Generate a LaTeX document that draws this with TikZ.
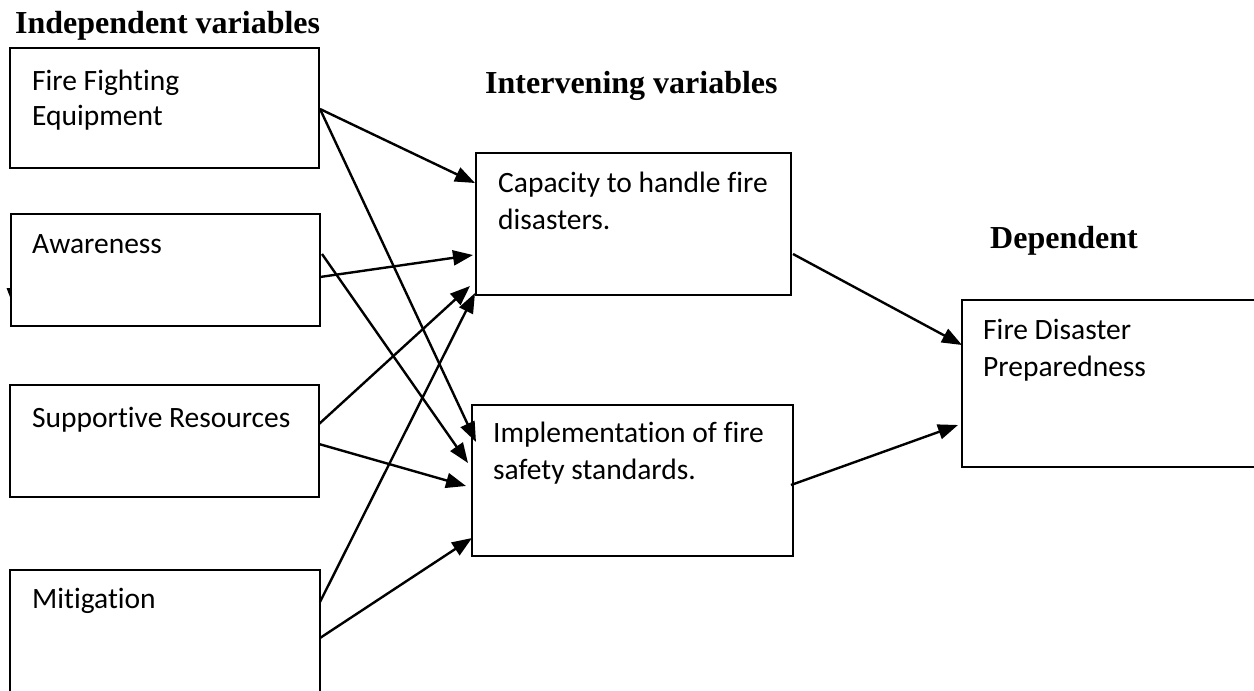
\documentclass[tikz,border=0pt]{standalone}
\usepackage{fontspec}
\setmainfont{Liberation Serif}
\newfontfamily\calib[Ligatures=NoCommon]{Carlito}
\usetikzlibrary{arrows.meta}
\begin{document}
\begin{tikzpicture}[x=1pt,y=-1pt,
  box/.style={draw,line width=1.9pt,inner sep=0pt,outer sep=0pt,anchor=north west},
  txt/.style={font=\calib\fontsize{29.5}{36}\selectfont,anchor=base west,inner sep=0pt},
  ttl/.style={font=\bfseries\fontsize{32}{38}\selectfont,anchor=base west,inner sep=0pt},
  arr/.style={line width=2.4pt,-{Triangle[length=20pt,width=15pt]}}]
\useasboundingbox (0,0) rectangle (1254,691);
\clip (0,0) rectangle (1254,691);
\fill[white] (0,0) rectangle (1254,691);

% titles
\node[ttl] (t1) at (15,33) {Independent variables};
\node[ttl] (t2) at (485,93) {Intervening variables};
\node[ttl] (t3) at (990,248) {Dependent};

% boxes
\node[box,minimum width=309pt,minimum height=120pt] (ffe) at (10,48) {};
\node[box,minimum width=309pt,minimum height=112pt] (awa) at (11,214) {};
\node[box,minimum width=309pt,minimum height=112pt] (sup) at (10,385) {};
\node[box,minimum width=310pt,minimum height=130pt] (mit) at (10,570) {};
\node[box,minimum width=315pt,minimum height=142pt] (cap) at (476,153) {};
\node[box,minimum width=321pt,minimum height=151pt] (imp) at (472,405) {};
\node[box,minimum width=310pt,minimum height=167pt] (fdp) at (962,300) {};

% texts
\node[txt] (ffe1) at (32,90) {Fire Fighting};
\node[txt] (ffe2) at (32,125) {Equipment};
\node[txt] (awa1) at (32,253) {Awareness};
\node[txt] (sup1) at (32,427) {Supportive Resources};
\node[txt] (mit1) at (32,608) {Mitigation};
\node[txt] (cap1) at (498,192) {Capacity to handle fire};
\node[txt] (cap2) at (498,229) {disasters.};
\node[txt] (imp1) at (493,442) {Implementation of fire};
\node[txt] (imp2) at (493,479) {safety standards.};
\node[txt] (fdp1) at (983,339) {Fire Disaster};
\node[txt] (fdp2) at (983,376) {Preparedness};

% stray mark
\fill (6.5,288) -- (10.5,288) -- (10,297) -- cycle;

% connectors
\draw[arr] ([yshift=-61pt,xshift=1pt]ffe.north east) -- ([yshift=-30pt,xshift=-1pt]cap.north west);
\draw[arr] ([yshift=-61pt,xshift=1pt]ffe.north east) -- ([yshift=-37pt,xshift=4pt]imp.north west);
\draw[arr] ([yshift=-63pt]awa.north east) -- ([yshift=-102pt,xshift=-3pt]cap.north west);
\draw[arr] ([yshift=-40pt,xshift=2pt]awa.north east) -- ([yshift=-58pt,xshift=-4pt]imp.north west);
\draw[arr] ([yshift=-39pt]sup.north east) -- ([yshift=9pt,xshift=-6pt]cap.south west);
\draw[arr] ([yshift=-59pt]sup.north east) -- ([yshift=-81pt,xshift=-6pt]imp.north west);
\draw[arr] ([yshift=-32pt]mit.north east) -- ([yshift=2pt,xshift=-1pt]cap.south west);
\draw[arr] ([yshift=-68pt]mit.north east) -- ([yshift=-133pt]imp.north west);
\draw[arr] ([yshift=-101pt,xshift=2pt]cap.north east) -- ([yshift=-45pt]fdp.north west);
\draw[arr] ([yshift=-80pt,xshift=-2pt]imp.north east) -- ([yshift=-125pt,xshift=-4pt]fdp.north west);
\end{tikzpicture}
\end{document}
